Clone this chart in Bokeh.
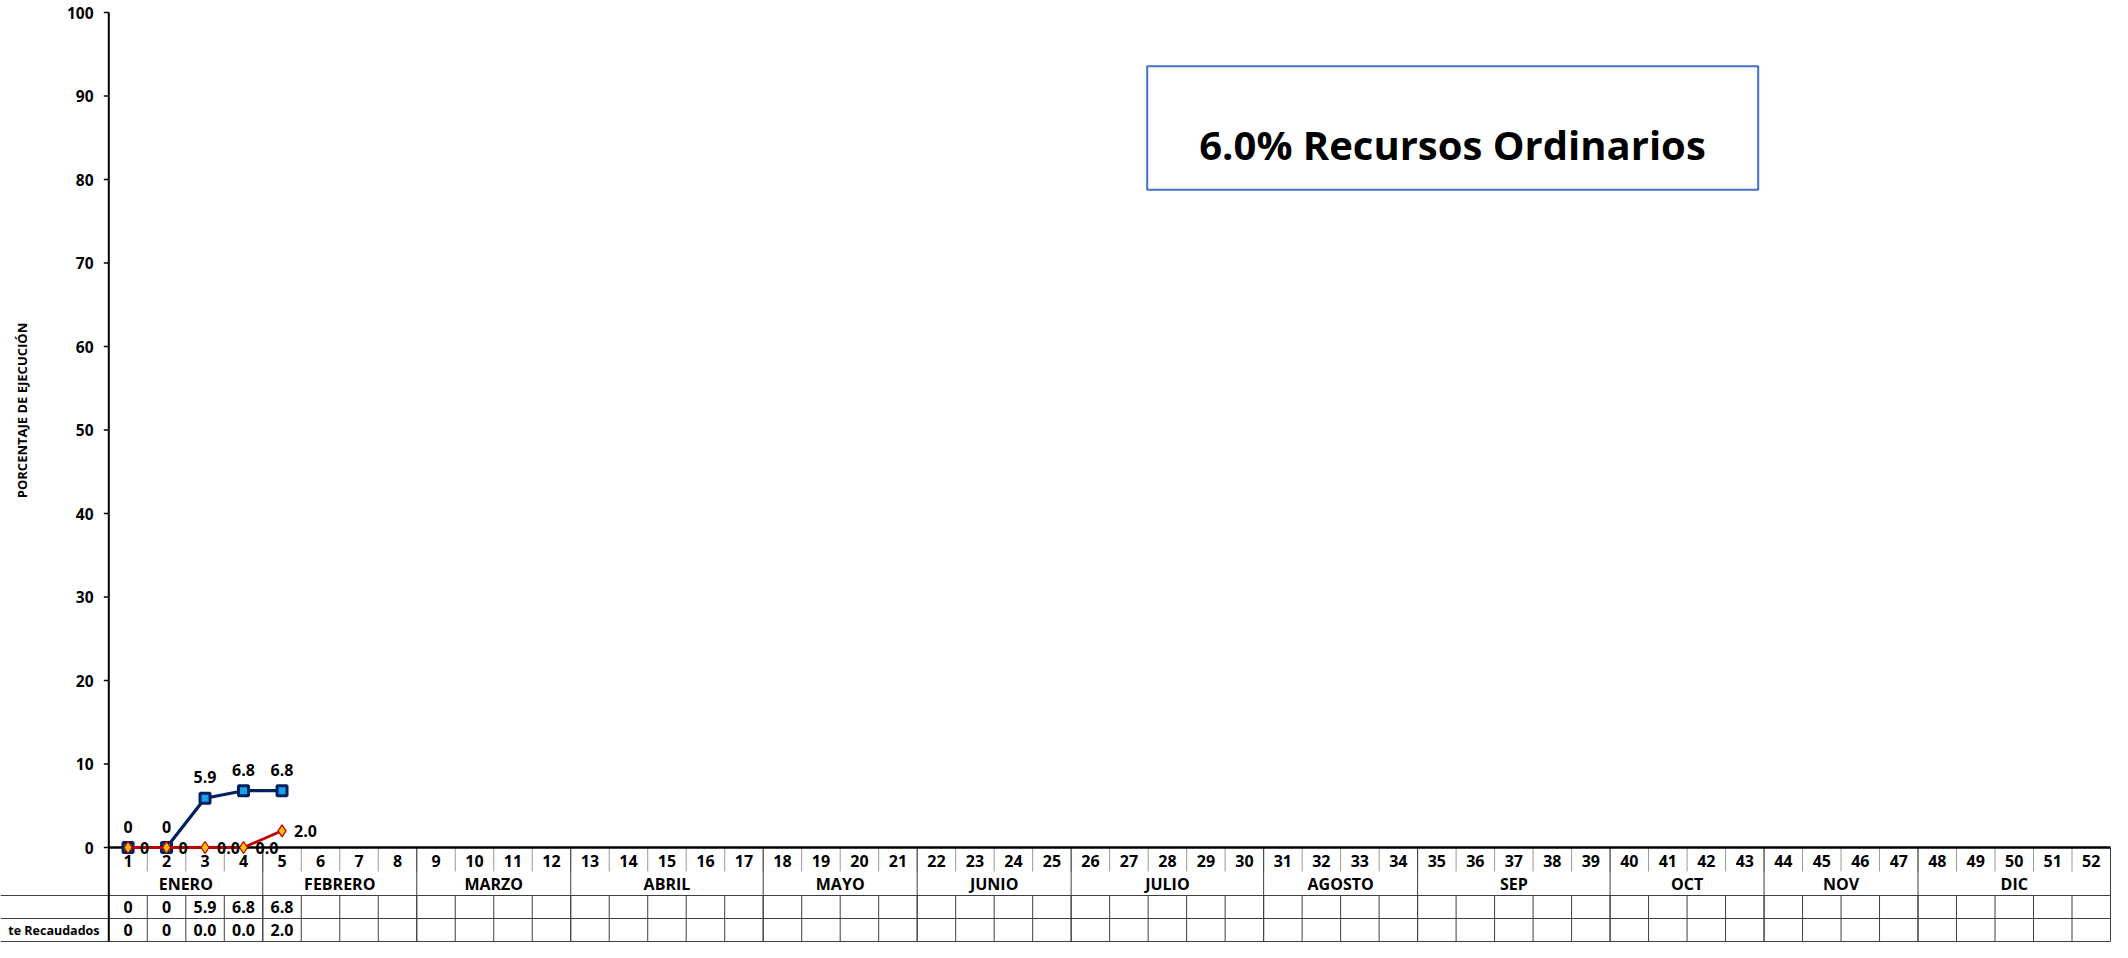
from math import pi
from bokeh.plotting import figure
from bokeh.models import Range1d
from bokeh.core.properties import value
from bokeh.embed import file_html
from bokeh.resources import INLINE

# ---------------- data ----------------
weeks = list(range(1, 53))
months = ["ENERO", "FEBRERO", "MARZO", "ABRIL", "MAYO", "JUNIO",
          "JULIO", "AGOSTO", "SEP", "OCT", "NOV", "DIC"]
month_weeks = [4, 4, 4, 5, 4, 4, 5, 4, 5, 4, 4, 5]

data_weeks = [1, 2, 3, 4, 5]
ejecucion = [0, 0, 5.9, 6.8, 6.8]
ejecucion_labels = ["0", "0", "5.9", "6.8", "6.8"]
recaudados = [0, 0, 0.0, 0.0, 2.0]
recaudados_labels = ["0", "0", "0.0", "0.0", "2.0"]

y_ticks = [0, 10, 20, 30, 40, 50, 60, 70, 80, 90, 100]
y_tick_labels = [str(t) for t in y_ticks]
y_title = "PORCENTAJE DE EJECUCIÓN"
row2_label = "te Recaudados"
box_title = "6.0% Recursos Ordinarios"

# ---------------- geometry ----------------
W, H = 2112, 942
XB0 = 108.3                     # px of the left table edge (week 0.5)
S = (2110.0 - XB0) / 52.0       # px per week
x_start = 0.5 - XB0 / S
x_end = x_start + W / S
Y0, Y100 = 847.0, 12.0
ky = (Y0 - Y100) / 100.0
y_end = 100 + Y100 / ky
y_start = 100 - (H - Y100) / ky


def px2x(px):
    return x_start + px / S


def py2y(py):
    return 100 - (py - Y100) / ky


FONT = value("Open Sans")
LINE = "#3F3F3F"
TICK = "#9A9A9A"
NAVY = "#002060"
RED = "#C00000"
FS = "16px"

p = figure(width=W, height=H, x_range=Range1d(x_start, x_end),
           y_range=Range1d(y_start, y_end), x_axis_type=None, y_axis_type=None,
           output_backend="svg", toolbar_location=None, min_border=0,
           outline_line_color=None, background_fill_color="white",
           border_fill_color="white")
p.grid.visible = False

# table rows (px)
r_num_bot = Y0 + 24
r_month_bot = r_num_bot + 24
r_row1_bot = r_month_bot + 23
r_row2_bot = r_row1_bot + 23
y_bottom = py2y(r_row2_bot)

left_edge = 0.5
right_edge = 52.5

# ---------- table ----------
for py in [r_month_bot, r_row1_bot, r_row2_bot]:
    p.segment(x0=[px2x(0)], y0=[py2y(py)], x1=[right_edge], y1=[py2y(py)],
              line_color=LINE, line_width=1)
inner = [w + 0.5 for w in weeks[:-1]]
p.segment(x0=inner, y0=[0] * len(inner), x1=inner, y1=[py2y(r_num_bot)] * len(inner),
          line_color=TICK, line_width=1)
p.segment(x0=inner, y0=[py2y(r_month_bot)] * len(inner), x1=inner,
          y1=[y_bottom] * len(inner), line_color=LINE, line_width=1)
bounds = []
acc = 0
for n in month_weeks:
    bounds.append(acc + 0.5)
    acc += n
bounds.append(acc + 0.5)
p.segment(x0=bounds[1:-1], y0=[0] * (len(bounds) - 2), x1=bounds[1:-1],
          y1=[y_bottom] * (len(bounds) - 2), line_color=LINE, line_width=1)
p.segment(x0=[right_edge], y0=[0], x1=[right_edge], y1=[y_bottom],
          line_color=LINE, line_width=1)

txt = dict(text_font=FONT, text_font_style="bold", text_font_size=FS,
           text_align="center", text_baseline="middle", text_color="black")

p.text(x=weeks, y=[py2y((Y0 + r_num_bot) / 2 + 1)] * len(weeks),
       text=[str(w) for w in weeks], **txt)
mcent = [(bounds[i] + bounds[i + 1]) / 2 for i in range(len(months))]
p.text(x=mcent, y=[py2y((r_num_bot + r_month_bot) / 2)] * len(months), text=months, **txt)
p.text(x=data_weeks, y=[py2y((r_month_bot + r_row1_bot) / 2)] * len(data_weeks),
       text=ejecucion_labels, **txt)
p.text(x=data_weeks, y=[py2y((r_row1_bot + r_row2_bot) / 2)] * len(data_weeks),
       text=recaudados_labels, **txt)
p.text(x=[px2x(99)], y=[py2y((r_row1_bot + r_row2_bot) / 2)], text=[row2_label],
       text_font=FONT, text_font_style="bold", text_font_size="12.5px",
       text_align="right", text_baseline="middle", text_color="black")

# ---------- axes ----------
p.segment(x0=[left_edge], y0=[100], x1=[left_edge], y1=[y_bottom],
          line_color="black", line_width=2)
p.segment(x0=[left_edge - 5 / S] * len(y_ticks), y0=y_ticks,
          x1=[left_edge] * len(y_ticks), y1=y_ticks, line_color="black", line_width=1.5)
p.text(x=[px2x(93)] * len(y_ticks), y=y_ticks, text=y_tick_labels,
       text_font=FONT, text_font_style="bold", text_font_size="15.5px",
       text_align="right", text_baseline="middle", text_color="black")
p.segment(x0=[left_edge], y0=[0], x1=[right_edge], y1=[0],
          line_color="black", line_width=2.5)
p.text(x=[px2x(21)], y=[py2y(410)], text=[y_title], angle=pi / 2,
       text_font=FONT, text_font_style="bold", text_font_size="13px",
       text_align="center", text_baseline="middle", text_color="black")

# ---------- series ----------
p.line(data_weeks, ejecucion, line_color=NAVY, line_width=3.2)
p.scatter(data_weeks, ejecucion, marker="square", size=10, fill_color="#1BA3E8",
          line_color=NAVY, line_width=3)
p.line(data_weeks, recaudados, line_color=RED, line_width=2.8)
p.scatter(data_weeks, recaudados, marker="diamond", size=12, fill_color="#FFC000",
          line_color=RED, line_width=1.3)

p.text(x=data_weeks, y=ejecucion, text=ejecucion_labels, y_offset=-21, **txt)
p.text(x=data_weeks, y=recaudados, text=recaudados_labels, x_offset=12,
       text_font=FONT, text_font_style="bold", text_font_size=FS,
       text_align="left", text_baseline="middle", text_color="black")

# ---------- title box ----------
p.quad(left=[px2x(1146.7)], right=[px2x(1757.7)], top=[py2y(65.7)], bottom=[py2y(189.3)],
       fill_color="white", line_color="#4472C4", line_width=2)
p.text(x=[px2x(1452)], y=[py2y(144.3)], text=[box_title],
       text_font=FONT, text_font_style="bold", text_font_size="40px",
       text_align="center", text_baseline="alphabetic", text_color="black")

open("out.html", "w").write(file_html(p, INLINE))
